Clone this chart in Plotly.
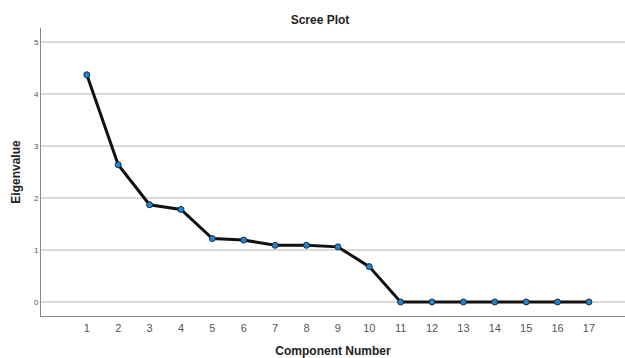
import plotly.graph_objects as go

components = list(range(1, 18))
eigenvalues = [4.37, 2.64, 1.87, 1.78, 1.22, 1.19, 1.09, 1.09, 1.06, 0.68,
               0.0, 0.0, 0.0, 0.0, 0.0, 0.0, 0.0]
y_ticks = [0, 1, 2, 3, 4, 5]

fig = go.Figure()
fig.add_trace(go.Scatter(
    x=components, y=eigenvalues, mode="lines+markers",
    line=dict(color="#111111", width=3),
    marker=dict(color="#1f86d6", size=6, line=dict(color="#1a2a3a", width=1)),
    showlegend=False,
))

fig.update_layout(
    width=625, height=358,
    margin=dict(l=41, r=0, t=28, b=42),
    paper_bgcolor="white", plot_bgcolor="white",
    font=dict(family="Arial, Liberation Sans, sans-serif", color="#333333"),
    title=dict(text="<b>Scree Plot</b>", x=0.512, xanchor="center", y=0.944, yanchor="middle",
               font=dict(size=12, color="#222222")),
    xaxis=dict(range=[-0.46, 18.15], tickvals=components, ticks="", showgrid=False,
               showline=True, linecolor="#888888", linewidth=1, zeroline=False,
               ticklabelstandoff=2,
               tickfont=dict(size=11, color="#555555"),
               title=dict(text="<b>Component Number</b>", font=dict(size=12, color="#222222"), standoff=15)),
    yaxis=dict(range=[-0.27, 5.27], tickvals=y_ticks, ticks="", showgrid=True,
               gridcolor="#d9d9d9", gridwidth=1.5, showline=True, linecolor="#888888", linewidth=1,
               zeroline=False, tickfont=dict(size=8, color="#555555"),
               title=dict(text="<b>Eigenvalue</b>", font=dict(size=12, color="#222222"), standoff=10)),
)

fig.write_html("out.html")
